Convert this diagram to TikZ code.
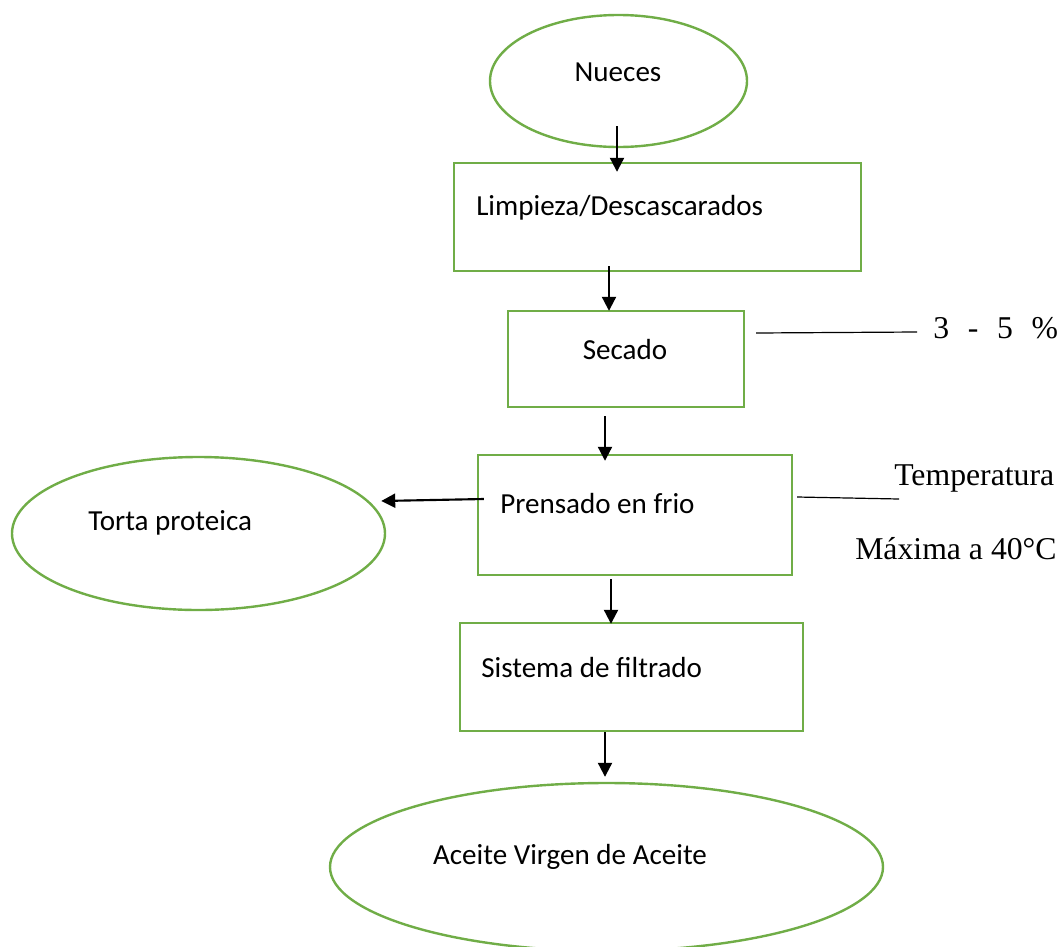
\documentclass[tikz,border=0pt]{standalone}
\usepackage{fontspec}
\setmainfont{Carlito}
\newfontfamily\annotfont{Liberation Serif}
\usetikzlibrary{shapes.geometric,arrows.meta,calc}
\definecolor{stepgreen}{RGB}{112,173,71}
\begin{document}
\begin{tikzpicture}[x=0.75pt,y=-0.75pt,
  stepbox/.style={draw=stepgreen,line width=1.8pt,rectangle,inner sep=0pt},
  endoval/.style={draw=stepgreen,line width=1.8pt,ellipse,inner sep=0pt},
  lbl/.style={font=\fontsize{21.8pt}{26pt}\selectfont,inner sep=0pt},
  note/.style={font=\annotfont\fontsize{23.8pt}{28pt}\selectfont,inner sep=0pt,anchor=base west},
  flow/.style={draw=black,line width=1.6pt,-{Triangle[length=10.5pt,width=10.5pt]}},
  lead/.style={draw=black,line width=0.9pt}]
\useasboundingbox (0,0) rectangle (1063,946);

% process shapes
\node[endoval,minimum width=192.75pt,minimum height=99pt] (nueces) at (618.5,81) {};
\node[stepbox,minimum width=305.25pt,minimum height=81pt] (limp) at (657.5,217) {};
\node[stepbox,minimum width=177pt,minimum height=72pt] (secado) at (626,359) {};
\node[stepbox,minimum width=235.5pt,minimum height=90pt] (pren) at (635,515) {};
\node[endoval,minimum width=279.75pt,minimum height=114.75pt] (torta) at (198.5,533.5) {};
\node[stepbox,minimum width=257.25pt,minimum height=81pt] (sis) at (631.5,677) {};
\node[endoval,minimum width=414.75pt,minimum height=126pt] (aceite) at (606.5,867) {};

% labels inside the shapes
\node[lbl] (nuecesT) at (618,72) {Nueces};
\node[lbl,anchor=west] (limpT) at (476,208) {Limpieza/Descascarados};
\node[lbl] (secadoT) at (625,350) {Secado};
\node[lbl,anchor=west] (prenT) at (500,504) {Prensado en frio};
\node[lbl,anchor=west] (tortaT) at (88,523) {Torta proteica};
\node[lbl,anchor=west] (sisT) at (481,668) {Sistema de filtrado};
\node[lbl] (aceiteT) at (570,857) {Aceite Virgen de Aceite};

% side notes
\node[note] (pct) at (933,338) {3\hspace{14pt}-\hspace{14pt}5\hspace{14pt}\%};
\node[note] (temp) at (894,485) {Temperatura};
\node[note] (tmax) at (855,559) {Máxima a 40°C};
\coordinate (pctend) at (917,332);
\coordinate (tempend) at (899,499);

% flow arrows
\draw[flow] ($(nueces.south)+(-1.5,-22)$) -- ($(limp.north)+(-40.5,10)$);
\draw[flow] ($(limp.south)+(-48.5,-6)$) -- ($(secado.north)+(-17,1)$);
\draw[flow] ($(secado.south)+(-21,8)$) -- ($(pren.north)+(-30,7)$);
\draw[flow] ($(pren.south)+(-24,3)$) -- ($(sis.north)+(-20.5,2)$);
\draw[flow] ($(sis.south)+(-26.5,0)$) -- ($(aceite.north)+(-1.5,-5)$);
\draw[flow] ($(pren.west)+(7,-16)$) -- ($(torta.east)+(-5,-32.5)$);

% leader lines to the notes
\draw[lead] ($(secado.east)+(11,-26)$) -- (pctend);
\draw[lead] ($(pren.east)+(4,-18)$) -- (tempend);
\end{tikzpicture}
\end{document}
